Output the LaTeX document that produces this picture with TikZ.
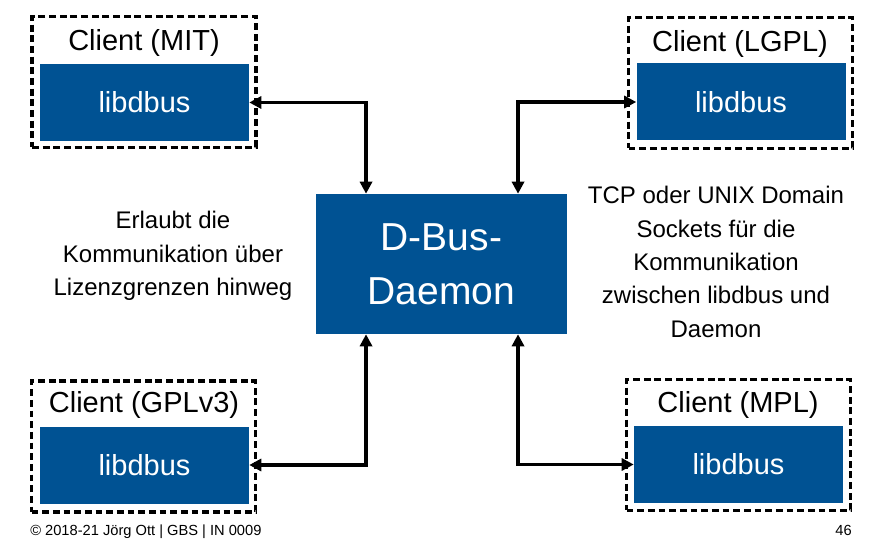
\documentclass[tikz,border=0pt]{standalone}
\usepackage{fontspec}
\setmainfont{Liberation Sans}
\usetikzlibrary{arrows.meta}
\definecolor{TB}{RGB}{0, 82, 147}

\tikzset{
  clientbox/.style={draw, line width=2.6pt, dash pattern=on 5.2pt off 2.8pt,
    minimum width=168pt, minimum height=98pt, inner sep=0pt},
  libbox/.style={fill=TB, text=white, minimum width=156.75pt, minimum height=57.75pt,
    inner sep=0pt, font=\fontsize{21.75}{26}\selectfont},
  clientlabel/.style={inner sep=0pt, font=\fontsize{21.75}{26}\selectfont},
  note/.style={align=center, inner sep=0pt, font=\fontsize{18}{25}\selectfont},
  link/.style={line width=2.4pt, {Triangle[length=9pt,width=9pt]}-{Triangle[length=9pt,width=9pt]}}
}

\begin{document}
\begin{tikzpicture}[x=0.75pt, y=-0.75pt]
	\useasboundingbox (0,0) rectangle (895,549);

	%Daemon in der Mitte
	\node[fill=TB, text=white, minimum width=188.25pt, minimum height=105pt, align=center,
	  font=\fontsize{29.25}{40.5}\selectfont] (daemon) at (441.5,264) {D-Bus-\\Daemon};

	%Client oben links
	\node[clientbox] (mitbox) at (144,82) {};
	\node[clientlabel] (mitlabel) at (144,43) {Client (MIT)};
	\node[libbox] (mitlib) at (144.5,102.5) {libdbus};

	%Client oben rechts
	\node[clientbox] (lgplbox) at (740.5,83) {};
	\node[clientlabel] (lgpllabel) at (740,44) {Client (LGPL)};
	\node[libbox] (lgpllib) at (741,102) {libdbus};

	%Client unten links
	\node[clientbox] (gplbox) at (143.5,446.5) {};
	\node[clientlabel] (gpllabel) at (144,405) {Client (GPLv3)};
	\node[libbox] (gpllib) at (144.5,465) {libdbus};

	%Client unten rechts
	\node[clientbox] (mplbox) at (738.5,445) {};
	\node[clientlabel] (mpllabel) at (738,404.5) {Client (MPL)};
	\node[libbox] (mpllib) at (738.5,464.5) {libdbus};

	%Verbindungen
	\draw[link] (mitlib.east) -| ([xshift=-56.6pt]daemon.north);
	\draw[link] (lgpllib.west) -| ([xshift=57.4pt]daemon.north);
	\draw[link] (gpllib.east) -| ([xshift=-56.6pt]daemon.south);
	\draw[link] (mpllib.west) -| ([xshift=57.4pt]daemon.south);

	%Texte links und rechts
	\node[note] (lefttext) at (173,256) {Erlaubt die\\Kommunikation über\\Lizenzgrenzen hinweg};
	\node[note] (righttext) at (716,262) {TCP oder UNIX Domain\\Sockets für die\\Kommunikation\\zwischen libdbus und\\Daemon};

	%Fusszeile
	\node[anchor=base west, inner sep=0pt, font=\fontsize{11}{13}\selectfont] (footer) at (30,535) {© 2018-21 Jörg Ott | GBS | IN 0009};
	\node[anchor=base east, inner sep=0pt, font=\fontsize{11}{13}\selectfont] (page) at (852,535) {46};
\end{tikzpicture}
\end{document}
